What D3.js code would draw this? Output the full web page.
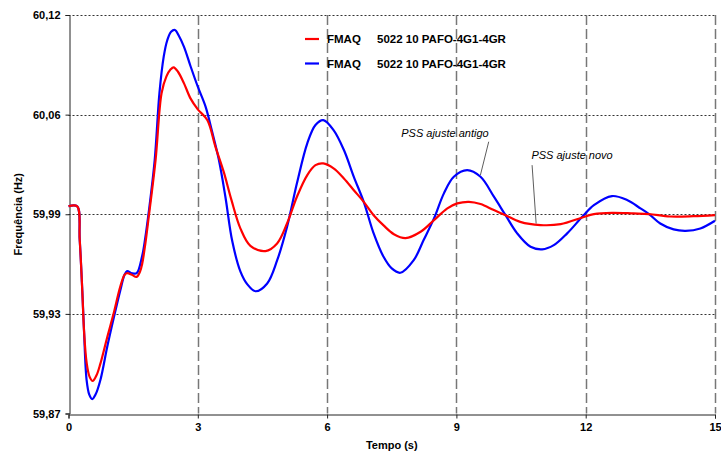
<!DOCTYPE html>
<html>
<head>
<meta charset="utf-8">
<script src="https://cdn.jsdelivr.net/npm/d3@7"></script>
<style>
  html, body { margin: 0; padding: 0; background: #fff; }
  svg { display: block; }
  text { font-family: "Liberation Sans", Arial, sans-serif; fill: #000; }
</style>
</head>
<body>
<div id="chart"></div>
<script>
// ---- data ----
const legendLabel1 = "FMAQ";
const legendLabel2 = "5022 10 PAFO-4G1-4GR";

const redTime = [0, 0.2, 0.26, 0.32, 0.36, 0.42, 0.49, 0.56, 0.65, 0.74, 0.90, 1.05, 1.20, 1.30, 1.36, 1.47, 1.58, 1.66, 1.71, 1.78, 1.86,
  2.02, 2.16, 2.27, 2.37, 2.44, 2.54, 2.68, 2.83, 3.00, 3.22, 3.41, 3.60, 3.78, 3.99, 4.22, 4.57, 4.84, 5.07, 5.30, 5.54, 5.73, 5.91,
  6.15, 6.39, 6.62, 6.85, 7.08, 7.31, 7.55, 7.82, 8.17, 8.48, 8.79, 9.02, 9.29, 9.56, 9.87, 10.14, 10.48, 10.95, 11.42, 11.92, 12.19,
  12.61, 13.11, 13.47, 13.96, 14.50, 15.00];
const redFreq = [60.000, 60.000, 59.979, 59.947, 59.922, 59.902, 59.893, 59.8904, 59.894, 59.9013, 59.918, 59.933, 59.9495, 59.957, 59.958,
  59.957, 59.9557, 59.959, 59.964, 59.976, 59.993, 60.029, 60.071, 60.0813, 60.0859, 60.0872, 60.0844, 60.0771, 60.0677, 60.0608,
  60.0541, 60.0373, 60.0217, 60.004, 59.986, 59.9752, 59.9719, 59.9767, 59.9892, 60.006, 60.0196, 60.0258, 60.0269, 60.0238, 60.0175,
  60.0101, 60.0028, 59.9944, 59.9880, 59.9825, 59.980, 59.984, 59.9913, 59.9987, 60.0018, 60.0028, 60.0014, 59.9976, 59.9944, 59.9902,
  59.9882, 59.9888, 59.993, 59.9951, 59.9959, 59.9955, 59.9951, 59.9936, 59.9938, 59.9945];

const blueTime = [0, 0.2, 0.26, 0.32, 0.36, 0.42, 0.48, 0.55, 0.63, 0.74, 0.90, 1.05, 1.20, 1.30, 1.36, 1.47, 1.58, 1.71, 1.78, 1.86,
  2.00, 2.11, 2.21, 2.29, 2.38, 2.47, 2.56, 2.68, 2.83, 3.00, 3.18, 3.33, 3.49, 3.64, 3.80, 3.99, 4.15, 4.34, 4.61, 4.84, 5.07, 5.30, 5.54,
  5.73, 5.91, 6.15, 6.39, 6.62, 6.85, 7.08, 7.31, 7.50, 7.70, 8.01, 8.24, 8.48, 8.71, 8.94, 9.25, 9.56, 9.87, 10.14, 10.41, 10.72,
  10.99, 11.26, 11.57, 11.92, 12.19, 12.61, 12.96, 13.27, 13.47, 13.73, 14.04, 14.32, 14.66, 15.00];
const blueFreq = [60.000, 60.000, 59.979, 59.947, 59.922, 59.891, 59.882, 59.879, 59.882, 59.891, 59.912, 59.930, 59.947, 59.957,
  59.9593, 59.958, 59.958, 59.969, 59.980, 59.996, 60.029, 60.071, 60.094, 60.104, 60.1095, 60.1106, 60.107, 60.100, 60.088, 60.075,
  60.0625, 60.047, 60.029, 60.006, 59.978, 59.959, 59.951, 59.9467, 59.9516, 59.966, 59.987, 60.0144, 60.0395, 60.051, 60.0541, 60.0478,
  60.0353, 60.0185, 60.0028, 59.983, 59.9683, 59.961, 59.9583, 59.9662, 59.9788, 59.9924, 60.0081, 60.0185, 60.0227, 60.0185, 60.006,
  59.9944, 59.983, 59.9746, 59.973, 59.9756, 59.983, 59.9934, 60.0007, 60.0064, 60.0039, 59.9987, 59.9951, 59.9892, 59.9855, 59.9846,
  59.9861, 59.9909];

const xTickValues = [0, 3, 6, 9, 12, 15];
const xTickLabels = ["0", "3", "6", "9", "12", "15"];
const yTickValues = [59.87, 59.9325, 59.995, 60.0575, 60.12];
const yTickLabels = ["59,87", "59,93", "59,99", "60,06", "60,12"];

const xTitle = "Tempo (s)";
const yTitle = "Frequência (Hz)";

// annotations: text anchor (t, f) and leader line from (t1,f1) to (t2,f2)
const annTexts = ["PSS ajuste antigo", "PSS ajuste novo"];
const annTextPos = [[7.72, 60.0457], [10.74, 60.0321]];
const annLineFrom = [[9.75, 60.0405], [10.756, 60.0258]];
const annLineTo = [[9.557, 60.0196], [10.85, 59.9892]];

// ---- layout ----
const W = 721, H = 457;
const margin = { left: 68.5, right: 6, top: 15, bottom: 43.5 };

const svg = d3.select("#chart").append("svg").attr("width", W).attr("height", H);

const x = d3.scaleLinear().domain([0, 15]).range([margin.left, W - margin.right]);
const y = d3.scaleLinear().domain([59.87, 60.12]).range([H - margin.bottom, margin.top]);

// horizontal dotted gridlines
svg.append("g").selectAll("line").data(yTickValues.slice(1)).join("line")
  .attr("x1", x(0)).attr("x2", x(15))
  .attr("y1", d => Math.round(y(d)) + 0.5).attr("y2", d => Math.round(y(d)) + 0.5)
  .attr("stroke", "#333").attr("stroke-width", 1).attr("stroke-dasharray", "2,2");

// vertical dashed gridlines
svg.append("g").selectAll("line").data(xTickValues.slice(1)).join("line")
  .attr("x1", d => Math.round(x(d)) + 0.5).attr("x2", d => Math.round(x(d)) + 0.5)
  .attr("y1", y(60.12)).attr("y2", y(59.87))
  .attr("stroke", "#777").attr("stroke-width", 1.5).attr("stroke-dasharray", "10,4");

// axes
const xAxis = d3.axisBottom(x).tickValues(xTickValues).tickFormat((d, i) => xTickLabels[i]).tickSizeOuter(0).tickSize(4).tickPadding(5);
const yAxis = d3.axisLeft(y).tickValues(yTickValues).tickFormat((d, i) => yTickLabels[i]).tickSizeOuter(0).tickSize(4).tickPadding(5);

const gx = svg.append("g").attr("transform", `translate(0,${Math.round(y(59.87)) + 0.5})`).call(xAxis);
const gy = svg.append("g").attr("transform", `translate(${Math.round(x(0)) + 0.5},0)`).call(yAxis);
[gx, gy].forEach(g => {
  g.select(".domain").attr("stroke", "#222");
  g.selectAll(".tick line").attr("stroke", "#222");
  g.selectAll(".tick text").attr("font-family", "Liberation Sans, Arial, sans-serif")
    .attr("font-size", 11).attr("font-weight", "bold").attr("fill", "#000");
});

// lines
const line = d3.line().x(d => x(d[0])).y(d => y(d[1])).curve(d3.curveCatmullRom.alpha(0.5));
const redData = redTime.map((t, i) => [t, redFreq[i]]);
const blueData = blueTime.map((t, i) => [t, blueFreq[i]]);

svg.append("path").datum(blueData).attr("d", line)
  .attr("fill", "none").attr("stroke", "#0000ff").attr("stroke-width", 2.2);
svg.append("path").datum(redData).attr("d", line)
  .attr("fill", "none").attr("stroke", "#ff0000").attr("stroke-width", 2.2);

// axis titles
svg.append("text").attr("x", (x(0) + x(15)) / 2).attr("y", 449)
  .attr("text-anchor", "middle").attr("font-size", 11).attr("font-weight", "bold").text(xTitle);
svg.append("text").attr("transform", `translate(22,${(y(59.87) + y(60.12)) / 2}) rotate(-90)`)
  .attr("text-anchor", "middle").attr("font-size", 11).attr("font-weight", "bold").text(yTitle);

// legend
const legendColors = ["#ff0000", "#0000ff"];
const legendYs = [39, 63.5];
const lg = svg.append("g");
legendColors.forEach((c, i) => {
  lg.append("line").attr("x1", 305).attr("x2", 319).attr("y1", legendYs[i]).attr("y2", legendYs[i])
    .attr("stroke", c).attr("stroke-width", 2.2);
  const t = lg.append("text").attr("y", legendYs[i] + 4).attr("font-size", 11.5).attr("font-weight", "bold");
  t.append("tspan").attr("x", 327).text(legendLabel1);
  t.append("tspan").attr("x", 377).text(legendLabel2);
});

// annotations
annTexts.forEach((txt, i) => {
  svg.append("line")
    .attr("x1", x(annLineFrom[i][0])).attr("y1", y(annLineFrom[i][1]))
    .attr("x2", x(annLineTo[i][0])).attr("y2", y(annLineTo[i][1]))
    .attr("stroke", "#333").attr("stroke-width", 0.8);
  svg.append("text").attr("x", x(annTextPos[i][0])).attr("y", y(annTextPos[i][1]) + 4)
    .attr("font-size", 11).attr("font-style", "italic").attr("fill", "#333").text(txt);
});
</script>
</body>
</html>
